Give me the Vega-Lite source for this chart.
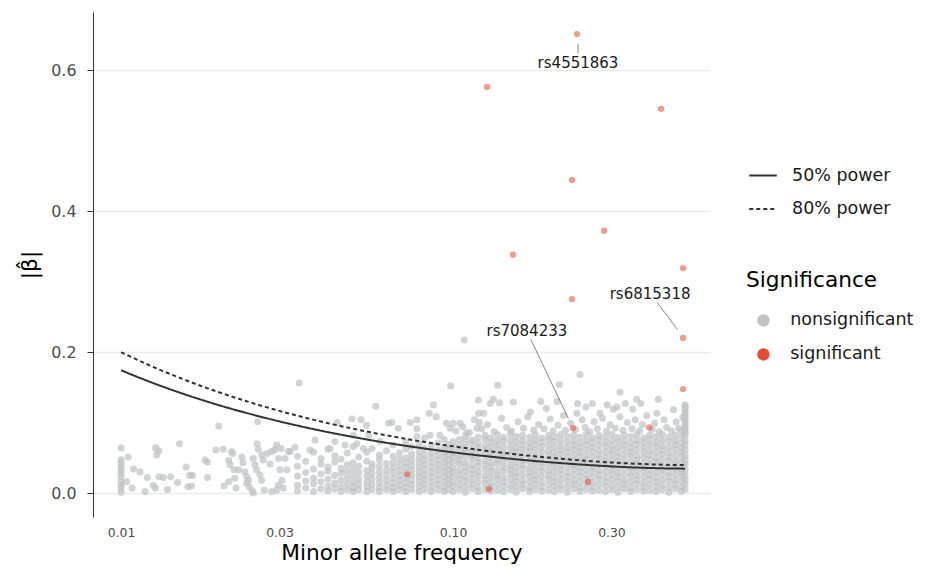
{
  "$schema": "https://vega.github.io/schema/vega-lite/v6.json",
  "width": 617,
  "height": 505,
  "autosize": {"type": "none"},
  "padding": {"left": 93, "top": 12, "right": 226, "bottom": 59},
  "background": "#ffffff",
  "config": {
    "view": {"stroke": null},
    "font": "DejaVu Sans"
  },
  "datasets": {
    "ns": [
      {"maf":0.01,"beta":0.064},{"maf":0.01,"beta":0.047},{"maf":0.01,"beta":0.043},{"maf":0.01,"beta":0.037},{"maf":0.01,"beta":0.033},{"maf":0.01,"beta":0.028},{"maf":0.01,"beta":0.023},{"maf":0.01,"beta":0.016},{"maf":0.01,"beta":0.011},{"maf":0.01,"beta":0.007},{"maf":0.01,"beta":0.001},
      {"maf":0.0105,"beta":0.051},{"maf":0.0109,"beta":0.034},{"maf":0.0104,"beta":0.016},{"maf":0.0108,"beta":0.007},{"maf":0.0114,"beta":0.030},{"maf":0.0118,"beta":0.002},{"maf":0.0120,"beta":0.022},{"maf":0.0125,"beta":0.011},{"maf":0.0127,"beta":0.064},{"maf":0.0130,"beta":0.060},{"maf":0.0128,"beta":0.054},{"maf":0.0127,"beta":0.007},{"maf":0.0130,"beta":0.023},{"maf":0.0134,"beta":0.022},{"maf":0.0138,"beta":0.005},{"maf":0.0141,"beta":0.023},{"maf":0.0148,"beta":0.015},{"maf":0.0150,"beta":0.070},{"maf":0.0157,"beta":0.037},{"maf":0.0159,"beta":0.009},{"maf":0.0161,"beta":0.025},{"maf":0.0164,"beta":0.025},{"maf":0.0163,"beta":0.010},{"maf":0.0179,"beta":0.047},{"maf":0.0182,"beta":0.044},{"maf":0.0182,"beta":0.022},{"maf":0.0193,"beta":0.061},{"maf":0.0197,"beta":0.095},{"maf":0.0203,"beta":0.062},{"maf":0.0204,"beta":0.010},{"maf":0.0211,"beta":0.046},{"maf":0.0215,"beta":0.059},{"maf":0.0217,"beta":0.056},{"maf":0.0213,"beta":0.040},{"maf":0.0211,"beta":0.016},{"maf":0.0220,"beta":0.021},{"maf":0.0222,"beta":0.007},{"maf":0.0219,"beta":0.033},{"maf":0.0226,"beta":0.033},{"maf":0.0231,"beta":0.051},{"maf":0.0233,"beta":0.043},{"maf":0.0236,"beta":0.030},{"maf":0.0239,"beta":0.023},{"maf":0.0239,"beta":0.014},{"maf":0.0243,"beta":0.009},{"maf":0.0248,"beta":0.004},{"maf":0.0250,"beta":0.000},{"maf":0.0250,"beta":0.049},{"maf":0.0253,"beta":0.040},{"maf":0.0256,"beta":0.033},{"maf":0.0258,"beta":0.101},{"maf":0.0257,"beta":0.070},{"maf":0.0259,"beta":0.062},{"maf":0.0265,"beta":0.054},{"maf":0.0268,"beta":0.047},{"maf":0.0262,"beta":0.026},{"maf":0.0265,"beta":0.018},{"maf":0.0270,"beta":0.004},{"maf":0.0275,"beta":0.056},{"maf":0.0281,"beta":0.041},{"maf":0.0284,"beta":0.059},{"maf":0.0290,"beta":0.061},{"maf":0.0294,"beta":0.068},{"maf":0.0303,"beta":0.063},{"maf":0.0298,"beta":0.049},{"maf":0.0301,"beta":0.033},{"maf":0.0305,"beta":0.018},{"maf":0.0298,"beta":0.011},{"maf":0.0312,"beta":0.049},{"maf":0.0316,"beta":0.033},{"maf":0.0308,"beta":0.007},{"maf":0.0319,"beta":0.059},{"maf":0.0294,"beta":0.004},{"maf":0.0284,"beta":0.002},{"maf":0.0242,"beta":0.018},
      {"maf":0.0344,"beta":0.156},{"maf":0.0585,"beta":0.123},{"maf":0.0984,"beta":0.152},{"maf":0.0873,"beta":0.125},{"maf":0.0848,"beta":0.113},{"maf":0.0890,"beta":0.108},{"maf":0.1192,"beta":0.132},{"maf":0.1194,"beta":0.113},{"maf":0.0384,"beta":0.075},{"maf":0.0448,"beta":0.100},{"maf":0.0496,"beta":0.105},{"maf":0.0528,"beta":0.104},{"maf":0.0549,"beta":0.096},{"maf":0.0639,"beta":0.099},{"maf":0.0654,"beta":0.100},{"maf":0.0684,"beta":0.092},{"maf":0.0743,"beta":0.100},{"maf":0.0778,"beta":0.104},{"maf":0.0778,"beta":0.091},{"maf":0.0955,"beta":0.099},{"maf":0.100,"beta":0.099},{"maf":0.105,"beta":0.099},{"maf":0.1081,"beta":0.217},
      {"maf":0.0334,"beta":0.065},{"maf":0.0323,"beta":0.059},{"maf":0.0371,"beta":0.061},{"maf":0.0426,"beta":0.063},{"maf":0.0441,"beta":0.073},{"maf":0.0473,"beta":0.068},{"maf":0.0513,"beta":0.070},{"maf":0.0537,"beta":0.063},{"maf":0.0603,"beta":0.073},{"maf":0.0556,"beta":0.082},{"maf":0.0501,"beta":0.082},{"maf":0.0778,"beta":0.080},{"maf":0.0852,"beta":0.082},{"maf":0.0913,"beta":0.082},{"maf":0.0980,"beta":0.092},{"maf":0.1098,"beta":0.085},{"maf":0.118,"beta":0.092},
      {"maf":0.034,"beta":0.003},{"maf":0.034,"beta":0.011},{"maf":0.034,"beta":0.024},{"maf":0.034,"beta":0.038},{"maf":0.034,"beta":0.052},
      {"maf":0.036,"beta":0.007},{"maf":0.036,"beta":0.017},{"maf":0.036,"beta":0.029},{"maf":0.036,"beta":0.045},
      {"maf":0.038,"beta":0.002},{"maf":0.038,"beta":0.013},{"maf":0.038,"beta":0.021},{"maf":0.038,"beta":0.034},{"maf":0.038,"beta":0.058},
      {"maf":0.040,"beta":0.006},{"maf":0.040,"beta":0.016},{"maf":0.040,"beta":0.027},{"maf":0.040,"beta":0.041},{"maf":0.040,"beta":0.049},
      {"maf":0.042,"beta":0.003},{"maf":0.042,"beta":0.010},{"maf":0.042,"beta":0.020},{"maf":0.042,"beta":0.031},{"maf":0.042,"beta":0.037},{"maf":0.042,"beta":0.062},
      {"maf":0.044,"beta":0.006},{"maf":0.044,"beta":0.014},{"maf":0.044,"beta":0.025},{"maf":0.044,"beta":0.044},{"maf":0.044,"beta":0.053},
      {"maf":0.046,"beta":0.002},{"maf":0.046,"beta":0.009},{"maf":0.046,"beta":0.018},{"maf":0.046,"beta":0.028},{"maf":0.046,"beta":0.035},{"maf":0.046,"beta":0.048},
      {"maf":0.048,"beta":0.005},{"maf":0.048,"beta":0.013},{"maf":0.048,"beta":0.022},{"maf":0.048,"beta":0.031},{"maf":0.048,"beta":0.040},{"maf":0.048,"beta":0.057},
      {"maf":0.050,"beta":0.002},{"maf":0.050,"beta":0.008},{"maf":0.050,"beta":0.016},{"maf":0.050,"beta":0.025},{"maf":0.050,"beta":0.034},{"maf":0.050,"beta":0.043},{"maf":0.050,"beta":0.066},
      {"maf":0.052,"beta":0.005},{"maf":0.052,"beta":0.012},{"maf":0.052,"beta":0.020},{"maf":0.052,"beta":0.029},{"maf":0.052,"beta":0.038},{"maf":0.052,"beta":0.051},
      {"maf":0.055,"beta":0.002},{"maf":0.055,"beta":0.009},{"maf":0.055,"beta":0.016},{"maf":0.055,"beta":0.024},{"maf":0.055,"beta":0.032},{"maf":0.055,"beta":0.045},{"maf":0.055,"beta":0.058},
      {"maf":0.057,"beta":0.005},{"maf":0.057,"beta":0.012},{"maf":0.057,"beta":0.020},{"maf":0.057,"beta":0.028},{"maf":0.057,"beta":0.036},{"maf":0.057,"beta":0.041},{"maf":0.057,"beta":0.063},
      {"maf":0.060,"beta":0.002},{"maf":0.060,"beta":0.008},{"maf":0.060,"beta":0.015},{"maf":0.060,"beta":0.022},{"maf":0.060,"beta":0.030},{"maf":0.060,"beta":0.038},{"maf":0.060,"beta":0.047},{"maf":0.060,"beta":0.054},
      {"maf":0.063,"beta":0.005},{"maf":0.063,"beta":0.011},{"maf":0.063,"beta":0.018},{"maf":0.063,"beta":0.026},{"maf":0.063,"beta":0.033},{"maf":0.063,"beta":0.042},{"maf":0.063,"beta":0.060},
      {"maf":0.066,"beta":0.002},{"maf":0.066,"beta":0.008},{"maf":0.066,"beta":0.014},{"maf":0.066,"beta":0.021},{"maf":0.066,"beta":0.029},{"maf":0.066,"beta":0.036},{"maf":0.066,"beta":0.044},{"maf":0.066,"beta":0.052},{"maf":0.066,"beta":0.068},
      {"maf":0.069,"beta":0.005},{"maf":0.069,"beta":0.011},{"maf":0.069,"beta":0.018},{"maf":0.069,"beta":0.025},{"maf":0.069,"beta":0.032},{"maf":0.069,"beta":0.040},{"maf":0.069,"beta":0.048},{"maf":0.069,"beta":0.057},
      {"maf":0.072,"beta":0.002},{"maf":0.072,"beta":0.008},{"maf":0.072,"beta":0.015},{"maf":0.072,"beta":0.022},{"maf":0.072,"beta":0.029},{"maf":0.072,"beta":0.036},{"maf":0.072,"beta":0.043},{"maf":0.072,"beta":0.050},{"maf":0.072,"beta":0.062},{"maf":0.072,"beta":0.072},
      {"maf":0.075,"beta":0.005},{"maf":0.075,"beta":0.012},{"maf":0.075,"beta":0.019},{"maf":0.075,"beta":0.026},{"maf":0.075,"beta":0.033},{"maf":0.075,"beta":0.040},{"maf":0.075,"beta":0.047},{"maf":0.075,"beta":0.055},{"maf":0.075,"beta":0.066},
      {"maf":0.079,"beta":0.002},{"maf":0.079,"beta":0.009},{"maf":0.079,"beta":0.016},{"maf":0.079,"beta":0.023},{"maf":0.079,"beta":0.030},{"maf":0.079,"beta":0.037},{"maf":0.079,"beta":0.044},{"maf":0.079,"beta":0.051},{"maf":0.079,"beta":0.059},{"maf":0.079,"beta":0.070},
      {"maf":0.082,"beta":0.005},{"maf":0.082,"beta":0.012},{"maf":0.082,"beta":0.019},{"maf":0.082,"beta":0.026},{"maf":0.082,"beta":0.033},{"maf":0.082,"beta":0.040},{"maf":0.082,"beta":0.047},{"maf":0.082,"beta":0.054},{"maf":0.082,"beta":0.063},{"maf":0.082,"beta":0.078},
      {"maf":0.086,"beta":0.002},{"maf":0.086,"beta":0.009},{"maf":0.086,"beta":0.016},{"maf":0.086,"beta":0.023},{"maf":0.086,"beta":0.030},{"maf":0.086,"beta":0.037},{"maf":0.086,"beta":0.044},{"maf":0.086,"beta":0.051},{"maf":0.086,"beta":0.058},{"maf":0.086,"beta":0.067},
      {"maf":0.090,"beta":0.005},{"maf":0.090,"beta":0.012},{"maf":0.090,"beta":0.019},{"maf":0.090,"beta":0.026},{"maf":0.090,"beta":0.033},{"maf":0.090,"beta":0.040},{"maf":0.090,"beta":0.047},{"maf":0.090,"beta":0.054},{"maf":0.090,"beta":0.061},{"maf":0.090,"beta":0.071},
      {"maf":0.094,"beta":0.002},{"maf":0.094,"beta":0.009},{"maf":0.094,"beta":0.016},{"maf":0.094,"beta":0.023},{"maf":0.094,"beta":0.030},{"maf":0.094,"beta":0.037},{"maf":0.094,"beta":0.044},{"maf":0.094,"beta":0.051},{"maf":0.094,"beta":0.058},{"maf":0.094,"beta":0.065},{"maf":0.094,"beta":0.076},
      {"maf":0.097,"beta":0.005},{"maf":0.097,"beta":0.012},{"maf":0.097,"beta":0.019},{"maf":0.097,"beta":0.026},{"maf":0.097,"beta":0.033},{"maf":0.097,"beta":0.040},{"maf":0.097,"beta":0.047},{"maf":0.097,"beta":0.054},{"maf":0.097,"beta":0.061},{"maf":0.097,"beta":0.069},
      {"maf":0.100,"beta":0.002},{"maf":0.100,"beta":0.010},{"maf":0.100,"beta":0.016},{"maf":0.100,"beta":0.024},{"maf":0.100,"beta":0.030},{"maf":0.100,"beta":0.036},{"maf":0.100,"beta":0.045},{"maf":0.100,"beta":0.051},{"maf":0.100,"beta":0.057},{"maf":0.100,"beta":0.066},{"maf":0.100,"beta":0.073},
      {"maf":0.1045,"beta":0.005},{"maf":0.1045,"beta":0.012},{"maf":0.1045,"beta":0.020},{"maf":0.1045,"beta":0.026},{"maf":0.1045,"beta":0.032},{"maf":0.1045,"beta":0.041},{"maf":0.1045,"beta":0.047},{"maf":0.1045,"beta":0.053},{"maf":0.1045,"beta":0.062},{"maf":0.1045,"beta":0.068},{"maf":0.1045,"beta":0.076},
      {"maf":0.109,"beta":0.001},{"maf":0.109,"beta":0.009},{"maf":0.109,"beta":0.017},{"maf":0.109,"beta":0.023},{"maf":0.109,"beta":0.031},{"maf":0.109,"beta":0.037},{"maf":0.109,"beta":0.043},{"maf":0.109,"beta":0.052},{"maf":0.109,"beta":0.058},{"maf":0.109,"beta":0.064},{"maf":0.109,"beta":0.072},{"maf":0.109,"beta":0.080},
      {"maf":0.114,"beta":0.006},{"maf":0.114,"beta":0.012},{"maf":0.114,"beta":0.019},{"maf":0.114,"beta":0.027},{"maf":0.114,"beta":0.033},{"maf":0.114,"beta":0.039},{"maf":0.114,"beta":0.048},{"maf":0.114,"beta":0.054},{"maf":0.114,"beta":0.060},{"maf":0.114,"beta":0.069},{"maf":0.114,"beta":0.075},
      {"maf":0.119,"beta":0.002},{"maf":0.119,"beta":0.008},{"maf":0.119,"beta":0.016},{"maf":0.119,"beta":0.024},{"maf":0.119,"beta":0.030},{"maf":0.119,"beta":0.038},{"maf":0.119,"beta":0.044},{"maf":0.119,"beta":0.050},{"maf":0.119,"beta":0.059},{"maf":0.119,"beta":0.065},{"maf":0.119,"beta":0.071},{"maf":0.119,"beta":0.079},
      {"maf":0.125,"beta":0.005},{"maf":0.125,"beta":0.013},{"maf":0.125,"beta":0.019},{"maf":0.125,"beta":0.025},{"maf":0.125,"beta":0.034},{"maf":0.125,"beta":0.040},{"maf":0.125,"beta":0.046},{"maf":0.125,"beta":0.055},{"maf":0.125,"beta":0.061},{"maf":0.125,"beta":0.067},{"maf":0.125,"beta":0.076},{"maf":0.125,"beta":0.082},
      {"maf":0.130,"beta":0.003},{"maf":0.130,"beta":0.009},{"maf":0.130,"beta":0.015},{"maf":0.130,"beta":0.023},{"maf":0.130,"beta":0.031},{"maf":0.130,"beta":0.037},{"maf":0.130,"beta":0.043},{"maf":0.130,"beta":0.051},{"maf":0.130,"beta":0.058},{"maf":0.130,"beta":0.066},{"maf":0.130,"beta":0.072},{"maf":0.130,"beta":0.078},
      {"maf":0.136,"beta":0.004},{"maf":0.136,"beta":0.012},{"maf":0.136,"beta":0.020},{"maf":0.136,"beta":0.026},{"maf":0.136,"beta":0.032},{"maf":0.136,"beta":0.041},{"maf":0.136,"beta":0.047},{"maf":0.136,"beta":0.053},{"maf":0.136,"beta":0.062},{"maf":0.136,"beta":0.068},{"maf":0.136,"beta":0.074},{"maf":0.136,"beta":0.083},
      {"maf":0.142,"beta":0.002},{"maf":0.142,"beta":0.010},{"maf":0.142,"beta":0.016},{"maf":0.142,"beta":0.022},{"maf":0.142,"beta":0.031},{"maf":0.142,"beta":0.037},{"maf":0.142,"beta":0.045},{"maf":0.142,"beta":0.051},{"maf":0.142,"beta":0.057},{"maf":0.142,"beta":0.065},{"maf":0.142,"beta":0.073},{"maf":0.142,"beta":0.079},
      {"maf":0.149,"beta":0.005},{"maf":0.149,"beta":0.011},{"maf":0.149,"beta":0.019},{"maf":0.149,"beta":0.027},{"maf":0.149,"beta":0.033},{"maf":0.149,"beta":0.039},{"maf":0.149,"beta":0.047},{"maf":0.149,"beta":0.055},{"maf":0.149,"beta":0.061},{"maf":0.149,"beta":0.067},{"maf":0.149,"beta":0.075},{"maf":0.149,"beta":0.084},
      {"maf":0.155,"beta":0.001},{"maf":0.155,"beta":0.009},{"maf":0.155,"beta":0.017},{"maf":0.155,"beta":0.023},{"maf":0.155,"beta":0.029},{"maf":0.155,"beta":0.037},{"maf":0.155,"beta":0.044},{"maf":0.155,"beta":0.052},{"maf":0.155,"beta":0.058},{"maf":0.155,"beta":0.064},{"maf":0.155,"beta":0.072},{"maf":0.155,"beta":0.080},
      {"maf":0.162,"beta":0.006},{"maf":0.162,"beta":0.012},{"maf":0.162,"beta":0.018},{"maf":0.162,"beta":0.026},{"maf":0.162,"beta":0.034},{"maf":0.162,"beta":0.040},{"maf":0.162,"beta":0.046},{"maf":0.162,"beta":0.054},{"maf":0.162,"beta":0.062},{"maf":0.162,"beta":0.068},{"maf":0.162,"beta":0.074},{"maf":0.162,"beta":0.082},
      {"maf":0.170,"beta":0.002},{"maf":0.170,"beta":0.008},{"maf":0.170,"beta":0.016},{"maf":0.170,"beta":0.024},{"maf":0.170,"beta":0.030},{"maf":0.170,"beta":0.036},{"maf":0.170,"beta":0.045},{"maf":0.170,"beta":0.051},{"maf":0.170,"beta":0.059},{"maf":0.170,"beta":0.065},{"maf":0.170,"beta":0.071},{"maf":0.170,"beta":0.079},
      {"maf":0.177,"beta":0.005},{"maf":0.177,"beta":0.013},{"maf":0.177,"beta":0.019},{"maf":0.177,"beta":0.025},{"maf":0.177,"beta":0.033},{"maf":0.177,"beta":0.041},{"maf":0.177,"beta":0.047},{"maf":0.177,"beta":0.053},{"maf":0.177,"beta":0.061},{"maf":0.177,"beta":0.069},{"maf":0.177,"beta":0.075},{"maf":0.177,"beta":0.083},
      {"maf":0.185,"beta":0.003},{"maf":0.185,"beta":0.009},{"maf":0.185,"beta":0.015},{"maf":0.185,"beta":0.023},{"maf":0.185,"beta":0.031},{"maf":0.185,"beta":0.037},{"maf":0.185,"beta":0.043},{"maf":0.185,"beta":0.050},{"maf":0.185,"beta":0.058},{"maf":0.185,"beta":0.066},{"maf":0.185,"beta":0.072},{"maf":0.185,"beta":0.078},
      {"maf":0.194,"beta":0.004},{"maf":0.194,"beta":0.012},{"maf":0.194,"beta":0.020},{"maf":0.194,"beta":0.026},{"maf":0.194,"beta":0.032},{"maf":0.194,"beta":0.040},{"maf":0.194,"beta":0.048},{"maf":0.194,"beta":0.054},{"maf":0.194,"beta":0.060},{"maf":0.194,"beta":0.068},{"maf":0.194,"beta":0.076},{"maf":0.194,"beta":0.082},
      {"maf":0.202,"beta":0.002},{"maf":0.202,"beta":0.010},{"maf":0.202,"beta":0.016},{"maf":0.202,"beta":0.022},{"maf":0.202,"beta":0.030},{"maf":0.202,"beta":0.038},{"maf":0.202,"beta":0.044},{"maf":0.202,"beta":0.051},{"maf":0.202,"beta":0.057},{"maf":0.202,"beta":0.065},{"maf":0.202,"beta":0.073},{"maf":0.202,"beta":0.080},
      {"maf":0.211,"beta":0.005},{"maf":0.211,"beta":0.011},{"maf":0.211,"beta":0.019},{"maf":0.211,"beta":0.027},{"maf":0.211,"beta":0.033},{"maf":0.211,"beta":0.039},{"maf":0.211,"beta":0.047},{"maf":0.211,"beta":0.055},{"maf":0.211,"beta":0.061},{"maf":0.211,"beta":0.067},{"maf":0.211,"beta":0.075},{"maf":0.211,"beta":0.083},
      {"maf":0.221,"beta":0.001},{"maf":0.221,"beta":0.009},{"maf":0.221,"beta":0.017},{"maf":0.221,"beta":0.023},{"maf":0.221,"beta":0.029},{"maf":0.221,"beta":0.037},{"maf":0.221,"beta":0.045},{"maf":0.221,"beta":0.051},{"maf":0.221,"beta":0.058},{"maf":0.221,"beta":0.064},{"maf":0.221,"beta":0.072},{"maf":0.221,"beta":0.080},
      {"maf":0.231,"beta":0.006},{"maf":0.231,"beta":0.012},{"maf":0.231,"beta":0.018},{"maf":0.231,"beta":0.026},{"maf":0.231,"beta":0.034},{"maf":0.231,"beta":0.040},{"maf":0.231,"beta":0.046},{"maf":0.231,"beta":0.054},{"maf":0.231,"beta":0.062},{"maf":0.231,"beta":0.068},{"maf":0.231,"beta":0.074},{"maf":0.231,"beta":0.082},
      {"maf":0.241,"beta":0.002},{"maf":0.241,"beta":0.008},{"maf":0.241,"beta":0.016},{"maf":0.241,"beta":0.024},{"maf":0.241,"beta":0.030},{"maf":0.241,"beta":0.036},{"maf":0.241,"beta":0.044},{"maf":0.241,"beta":0.052},{"maf":0.241,"beta":0.058},{"maf":0.241,"beta":0.065},{"maf":0.241,"beta":0.071},{"maf":0.241,"beta":0.079},
      {"maf":0.252,"beta":0.005},{"maf":0.252,"beta":0.013},{"maf":0.252,"beta":0.019},{"maf":0.252,"beta":0.025},{"maf":0.252,"beta":0.033},{"maf":0.252,"beta":0.041},{"maf":0.252,"beta":0.047},{"maf":0.252,"beta":0.053},{"maf":0.252,"beta":0.061},{"maf":0.252,"beta":0.069},{"maf":0.252,"beta":0.075},{"maf":0.252,"beta":0.084},
      {"maf":0.263,"beta":0.003},{"maf":0.263,"beta":0.009},{"maf":0.263,"beta":0.015},{"maf":0.263,"beta":0.023},{"maf":0.263,"beta":0.031},{"maf":0.263,"beta":0.037},{"maf":0.263,"beta":0.043},{"maf":0.263,"beta":0.051},{"maf":0.263,"beta":0.059},{"maf":0.263,"beta":0.065},{"maf":0.263,"beta":0.072},{"maf":0.263,"beta":0.078},
      {"maf":0.275,"beta":0.004},{"maf":0.275,"beta":0.012},{"maf":0.275,"beta":0.020},{"maf":0.275,"beta":0.026},{"maf":0.275,"beta":0.032},{"maf":0.275,"beta":0.040},{"maf":0.275,"beta":0.048},{"maf":0.275,"beta":0.054},{"maf":0.275,"beta":0.060},{"maf":0.275,"beta":0.068},{"maf":0.275,"beta":0.076},{"maf":0.275,"beta":0.082},
      {"maf":0.288,"beta":0.002},{"maf":0.288,"beta":0.010},{"maf":0.288,"beta":0.016},{"maf":0.288,"beta":0.022},{"maf":0.288,"beta":0.030},{"maf":0.288,"beta":0.038},{"maf":0.288,"beta":0.044},{"maf":0.288,"beta":0.050},{"maf":0.288,"beta":0.058},{"maf":0.288,"beta":0.066},{"maf":0.288,"beta":0.072},{"maf":0.288,"beta":0.080},
      {"maf":0.301,"beta":0.005},{"maf":0.301,"beta":0.011},{"maf":0.301,"beta":0.019},{"maf":0.301,"beta":0.027},{"maf":0.301,"beta":0.033},{"maf":0.301,"beta":0.039},{"maf":0.301,"beta":0.047},{"maf":0.301,"beta":0.055},{"maf":0.301,"beta":0.061},{"maf":0.301,"beta":0.067},{"maf":0.301,"beta":0.075},{"maf":0.301,"beta":0.083},
      {"maf":0.314,"beta":0.001},{"maf":0.314,"beta":0.009},{"maf":0.314,"beta":0.017},{"maf":0.314,"beta":0.023},{"maf":0.314,"beta":0.029},{"maf":0.314,"beta":0.037},{"maf":0.314,"beta":0.045},{"maf":0.314,"beta":0.051},{"maf":0.314,"beta":0.057},{"maf":0.314,"beta":0.065},{"maf":0.314,"beta":0.073},{"maf":0.314,"beta":0.079},
      {"maf":0.328,"beta":0.006},{"maf":0.328,"beta":0.012},{"maf":0.328,"beta":0.018},{"maf":0.328,"beta":0.026},{"maf":0.328,"beta":0.034},{"maf":0.328,"beta":0.040},{"maf":0.328,"beta":0.046},{"maf":0.328,"beta":0.054},{"maf":0.328,"beta":0.062},{"maf":0.328,"beta":0.068},{"maf":0.328,"beta":0.074},{"maf":0.328,"beta":0.082},
      {"maf":0.343,"beta":0.002},{"maf":0.343,"beta":0.008},{"maf":0.343,"beta":0.016},{"maf":0.343,"beta":0.024},{"maf":0.343,"beta":0.030},{"maf":0.343,"beta":0.036},{"maf":0.343,"beta":0.044},{"maf":0.343,"beta":0.052},{"maf":0.343,"beta":0.058},{"maf":0.343,"beta":0.064},{"maf":0.343,"beta":0.071},{"maf":0.343,"beta":0.080},
      {"maf":0.358,"beta":0.005},{"maf":0.358,"beta":0.013},{"maf":0.358,"beta":0.019},{"maf":0.358,"beta":0.025},{"maf":0.358,"beta":0.033},{"maf":0.358,"beta":0.041},{"maf":0.358,"beta":0.047},{"maf":0.358,"beta":0.053},{"maf":0.358,"beta":0.061},{"maf":0.358,"beta":0.069},{"maf":0.358,"beta":0.075},{"maf":0.358,"beta":0.083},
      {"maf":0.375,"beta":0.003},{"maf":0.375,"beta":0.009},{"maf":0.375,"beta":0.015},{"maf":0.375,"beta":0.023},{"maf":0.375,"beta":0.031},{"maf":0.375,"beta":0.037},{"maf":0.375,"beta":0.043},{"maf":0.375,"beta":0.051},{"maf":0.375,"beta":0.059},{"maf":0.375,"beta":0.065},{"maf":0.375,"beta":0.072},{"maf":0.375,"beta":0.078},
      {"maf":0.391,"beta":0.004},{"maf":0.391,"beta":0.012},{"maf":0.391,"beta":0.020},{"maf":0.391,"beta":0.026},{"maf":0.391,"beta":0.032},{"maf":0.391,"beta":0.040},{"maf":0.391,"beta":0.048},{"maf":0.391,"beta":0.054},{"maf":0.391,"beta":0.060},{"maf":0.391,"beta":0.068},{"maf":0.391,"beta":0.076},{"maf":0.391,"beta":0.082},
      {"maf":0.409,"beta":0.002},{"maf":0.409,"beta":0.010},{"maf":0.409,"beta":0.016},{"maf":0.409,"beta":0.022},{"maf":0.409,"beta":0.030},{"maf":0.409,"beta":0.038},{"maf":0.409,"beta":0.044},{"maf":0.409,"beta":0.050},{"maf":0.409,"beta":0.058},{"maf":0.409,"beta":0.066},{"maf":0.409,"beta":0.072},{"maf":0.409,"beta":0.080},
      {"maf":0.427,"beta":0.005},{"maf":0.427,"beta":0.011},{"maf":0.427,"beta":0.019},{"maf":0.427,"beta":0.027},{"maf":0.427,"beta":0.033},{"maf":0.427,"beta":0.039},{"maf":0.427,"beta":0.047},{"maf":0.427,"beta":0.055},{"maf":0.427,"beta":0.061},{"maf":0.427,"beta":0.067},{"maf":0.427,"beta":0.075},{"maf":0.427,"beta":0.083},
      {"maf":0.447,"beta":0.001},{"maf":0.447,"beta":0.009},{"maf":0.447,"beta":0.017},{"maf":0.447,"beta":0.023},{"maf":0.447,"beta":0.029},{"maf":0.447,"beta":0.037},{"maf":0.447,"beta":0.045},{"maf":0.447,"beta":0.051},{"maf":0.447,"beta":0.057},{"maf":0.447,"beta":0.065},{"maf":0.447,"beta":0.073},{"maf":0.447,"beta":0.079},
      {"maf":0.467,"beta":0.006},{"maf":0.467,"beta":0.012},{"maf":0.467,"beta":0.018},{"maf":0.467,"beta":0.026},{"maf":0.467,"beta":0.034},{"maf":0.467,"beta":0.040},{"maf":0.467,"beta":0.046},{"maf":0.467,"beta":0.054},{"maf":0.467,"beta":0.062},{"maf":0.467,"beta":0.068},{"maf":0.467,"beta":0.074},{"maf":0.467,"beta":0.082},
      {"maf":0.488,"beta":0.002},{"maf":0.488,"beta":0.008},{"maf":0.488,"beta":0.016},{"maf":0.488,"beta":0.024},{"maf":0.488,"beta":0.030},{"maf":0.488,"beta":0.036},{"maf":0.488,"beta":0.044},{"maf":0.488,"beta":0.052},{"maf":0.488,"beta":0.058},{"maf":0.488,"beta":0.064},{"maf":0.488,"beta":0.071},{"maf":0.488,"beta":0.079},
      {"maf":0.5,"beta":0.005},{"maf":0.5,"beta":0.013},{"maf":0.5,"beta":0.019},{"maf":0.5,"beta":0.025},{"maf":0.5,"beta":0.033},{"maf":0.5,"beta":0.041},{"maf":0.5,"beta":0.047},{"maf":0.5,"beta":0.053},{"maf":0.5,"beta":0.061},{"maf":0.5,"beta":0.069},{"maf":0.5,"beta":0.075},{"maf":0.5,"beta":0.083},{"maf":0.5,"beta":0.086},{"maf":0.5,"beta":0.090},{"maf":0.5,"beta":0.094},{"maf":0.5,"beta":0.098},{"maf":0.5,"beta":0.102},{"maf":0.5,"beta":0.106},{"maf":0.5,"beta":0.110},{"maf":0.5,"beta":0.114},{"maf":0.5,"beta":0.118},{"maf":0.5,"beta":0.122},{"maf":0.5,"beta":0.125},
      {"maf":0.1363,"beta":0.153},{"maf":0.2413,"beta":0.168},{"maf":0.2090,"beta":0.154},{"maf":0.3184,"beta":0.143},{"maf":0.4152,"beta":0.133},{"maf":0.1322,"beta":0.133},{"maf":0.1295,"beta":0.127},{"maf":0.138,"beta":0.128},{"maf":0.1519,"beta":0.129},{"maf":0.1837,"beta":0.130},{"maf":0.2057,"beta":0.130},{"maf":0.2372,"beta":0.127},{"maf":0.2514,"beta":0.122},{"maf":0.2628,"beta":0.127},{"maf":0.2914,"beta":0.125},{"maf":0.3119,"beta":0.122},{"maf":0.3302,"beta":0.127},{"maf":0.3575,"beta":0.133},{"maf":0.3678,"beta":0.127},{"maf":0.461,"beta":0.118},{"maf":0.1236,"beta":0.113},{"maf":0.120,"beta":0.100},{"maf":0.171,"beta":0.115},{"maf":0.191,"beta":0.120},{"maf":0.236,"beta":0.113},{"maf":0.277,"beta":0.113},{"maf":0.304,"beta":0.119},{"maf":0.348,"beta":0.119},{"maf":0.411,"beta":0.113},
      {"maf":0.102,"beta":0.088},{"maf":0.107,"beta":0.094},{"maf":0.112,"beta":0.086},{"maf":0.116,"beta":0.104},{"maf":0.122,"beta":0.091},{"maf":0.127,"beta":0.097},{"maf":0.133,"beta":0.087},{"maf":0.140,"beta":0.106},{"maf":0.145,"beta":0.093},{"maf":0.150,"beta":0.088},{"maf":0.157,"beta":0.101},{"maf":0.163,"beta":0.092},{"maf":0.168,"beta":0.108},{"maf":0.175,"beta":0.089},{"maf":0.181,"beta":0.097},{"maf":0.188,"beta":0.091},{"maf":0.196,"beta":0.105},{"maf":0.200,"beta":0.088},{"maf":0.207,"beta":0.096},{"maf":0.215,"beta":0.110},{"maf":0.218,"beta":0.089},{"maf":0.226,"beta":0.099},{"maf":0.234,"beta":0.090},{"maf":0.245,"beta":0.104},{"maf":0.250,"beta":0.093},{"maf":0.258,"beta":0.087},{"maf":0.266,"beta":0.101},{"maf":0.272,"beta":0.091},{"maf":0.282,"beta":0.106},{"maf":0.290,"beta":0.088},{"maf":0.297,"beta":0.097},{"maf":0.308,"beta":0.092},{"maf":0.318,"beta":0.108},{"maf":0.325,"beta":0.089},{"maf":0.335,"beta":0.100},{"maf":0.346,"beta":0.091},{"maf":0.354,"beta":0.104},{"maf":0.365,"beta":0.088},{"maf":0.372,"beta":0.097},{"maf":0.383,"beta":0.110},{"maf":0.398,"beta":0.090},{"maf":0.405,"beta":0.099},{"maf":0.418,"beta":0.087},{"maf":0.432,"beta":0.104},{"maf":0.440,"beta":0.093},{"maf":0.455,"beta":0.088},{"maf":0.470,"beta":0.101},{"maf":0.478,"beta":0.092},{"maf":0.492,"beta":0.107},{"maf":0.486,"beta":0.088}
    ],
    "sig": [
      {"maf":0.2363,"beta":0.651},{"maf":0.1266,"beta":0.576},{"maf":0.4232,"beta":0.545},{"maf":0.2282,"beta":0.444},{"maf":0.2851,"beta":0.372},{"maf":0.1516,"beta":0.338},{"maf":0.4931,"beta":0.319},{"maf":0.2282,"beta":0.275},{"maf":0.4931,"beta":0.220},{"maf":0.4931,"beta":0.1475},{"maf":0.2298,"beta":0.092},{"maf":0.390,"beta":0.093},{"maf":0.2551,"beta":0.0156},{"maf":0.0728,"beta":0.0265},{"maf":0.1283,"beta":0.0057}
    ],
    "curves": [
      {"maf":0.01,"beta":0.1741,"power":"50% power"},{"maf":0.0125,"beta":0.1559,"power":"50% power"},{"maf":0.015,"beta":0.1425,"power":"50% power"},{"maf":0.0175,"beta":0.1321,"power":"50% power"},{"maf":0.02,"beta":0.1237,"power":"50% power"},{"maf":0.025,"beta":0.1110,"power":"50% power"},{"maf":0.03,"beta":0.1016,"power":"50% power"},{"maf":0.035,"beta":0.0943,"power":"50% power"},{"maf":0.04,"beta":0.0884,"power":"50% power"},{"maf":0.05,"beta":0.0795,"power":"50% power"},{"maf":0.06,"beta":0.0729,"power":"50% power"},{"maf":0.07,"beta":0.0679,"power":"50% power"},{"maf":0.085,"beta":0.0621,"power":"50% power"},{"maf":0.1,"beta":0.0577,"power":"50% power"},{"maf":0.125,"beta":0.0524,"power":"50% power"},{"maf":0.15,"beta":0.0485,"power":"50% power"},{"maf":0.2,"beta":0.0433,"power":"50% power"},{"maf":0.25,"beta":0.0400,"power":"50% power"},{"maf":0.3,"beta":0.0378,"power":"50% power"},{"maf":0.35,"beta":0.0363,"power":"50% power"},{"maf":0.4,"beta":0.0354,"power":"50% power"},{"maf":0.45,"beta":0.0348,"power":"50% power"},{"maf":0.5,"beta":0.0346,"power":"50% power"},
      {"maf":0.01,"beta":0.1997,"power":"80% power"},{"maf":0.0125,"beta":0.1788,"power":"80% power"},{"maf":0.015,"beta":0.1635,"power":"80% power"},{"maf":0.0175,"beta":0.1515,"power":"80% power"},{"maf":0.02,"beta":0.1419,"power":"80% power"},{"maf":0.025,"beta":0.1273,"power":"80% power"},{"maf":0.03,"beta":0.1165,"power":"80% power"},{"maf":0.035,"beta":0.1081,"power":"80% power"},{"maf":0.04,"beta":0.1014,"power":"80% power"},{"maf":0.05,"beta":0.0912,"power":"80% power"},{"maf":0.06,"beta":0.0837,"power":"80% power"},{"maf":0.07,"beta":0.0779,"power":"80% power"},{"maf":0.085,"beta":0.0712,"power":"80% power"},{"maf":0.1,"beta":0.0662,"power":"80% power"},{"maf":0.125,"beta":0.0601,"power":"80% power"},{"maf":0.15,"beta":0.0556,"power":"80% power"},{"maf":0.2,"beta":0.0497,"power":"80% power"},{"maf":0.25,"beta":0.0459,"power":"80% power"},{"maf":0.3,"beta":0.0434,"power":"80% power"},{"maf":0.35,"beta":0.0417,"power":"80% power"},{"maf":0.4,"beta":0.0406,"power":"80% power"},{"maf":0.45,"beta":0.0399,"power":"80% power"},{"maf":0.5,"beta":0.0397,"power":"80% power"}
    ],
    "leaders": [
      {"maf":0.2379,"beta":0.637,"maf2":0.2379,"beta2":0.624},
      {"maf":0.1714,"beta":0.218,"maf2":0.2225,"beta2":0.106},
      {"maf":0.4124,"beta":0.270,"maf2":0.4738,"beta2":0.2322}
    ],
    "labels": [
      {"maf":0.2379,"beta":0.6104,"label":"rs4551863"},
      {"maf":0.1669,"beta":0.2302,"label":"rs7084233"},
      {"maf":0.3922,"beta":0.2823,"label":"rs6815318"}
    ]
  },
  "layer": [
    {
      "data": {"name": "ns"},
      "mark": {"type": "circle", "size": 50, "opacity": 0.72},
      "encoding": {
        "x": {
          "field": "maf", "type": "quantitative",
          "scale": {"type": "log", "domain": [0.00823, 0.5943], "nice": false},
          "axis": {
            "values": [0.01, 0.03, 0.1, 0.3], "format": ".2f",
            "title": "Minor allele frequency",
            "grid": false, "domain": false, "ticks": false, "tickSize": 0,
            "labelFontSize": 12.4, "labelColor": "#4D4D4D", "labelPadding": 9,
            "titleFontSize": 21.7, "titleFontWeight": "normal", "titleColor": "#000000", "titlePadding": 4
          }
        },
        "y": {
          "field": "beta", "type": "quantitative",
          "scale": {"domain": [-0.034, 0.6823], "nice": false, "zero": false},
          "axis": {
            "values": [0, 0.2, 0.4, 0.6], "format": ".1f",
            "title": "|β̂|",
            "grid": true, "gridColor": "#EBEBEB", "gridWidth": 1.3,
            "domain": true, "domainColor": "#333333", "domainWidth": 1,
            "ticks": true, "tickColor": "#333333", "tickSize": 6,
            "labelFontSize": 15.9, "labelColor": "#4D4D4D", "labelPadding": 11,
            "titleFontSize": 21.7, "titleFontWeight": "normal", "titleColor": "#000000",
            "titleX": -64, "titleY": 252.5, "titleAngle": 270, "titleAlign": "center", "titleBaseline": "middle"
          }
        },
        "color": {
          "datum": "nonsignificant",
          "scale": {"domain": ["nonsignificant", "significant"], "range": ["#BFC3C6", "#E64B35"]},
          "legend": {
            "title": "Significance", "orient": "none", "legendX": 653, "legendY": 258,
            "titleFontSize": 21.7, "titleFontWeight": "normal", "titleColor": "#000000", "titlePadding": 20,
            "symbolType": "circle", "symbolSize": 154, "symbolOpacity": 1, "symbolStrokeWidth": 0, "symbolOffset": 8.7,
            "labelFontSize": 17.5, "labelColor": "#1A1A1A", "labelOffset": 18, "rowPadding": 15, "padding": 0,
            "encode": {"symbols": {"update": {"opacity": {"value": 1}, "fillOpacity": {"value": 1}}}}
          }
        }
      }
    },
    {
      "data": {"name": "sig"},
      "mark": {"type": "circle", "size": 40, "opacity": 0.55},
      "encoding": {
        "x": {"field": "maf", "type": "quantitative"},
        "y": {"field": "beta", "type": "quantitative"},
        "color": {"datum": "significant"}
      }
    },
    {
      "data": {"name": "curves"},
      "mark": {"type": "line", "color": "#333333", "strokeWidth": 2, "interpolate": "monotone"},
      "encoding": {
        "x": {"field": "maf", "type": "quantitative"},
        "y": {"field": "beta", "type": "quantitative"},
        "strokeDash": {
          "field": "power", "type": "nominal",
          "scale": {"domain": ["50% power", "80% power"], "range": [[1, 0], [4, 3]]},
          "legend": {
            "title": null, "orient": "none", "legendX": 655, "legendY": 148.5,
            "symbolType": "stroke", "symbolSize": 756, "symbolStrokeWidth": 2, "symbolStrokeColor": "#333333",
            "labelFontSize": 17.5, "labelColor": "#1A1A1A", "labelOffset": 14, "rowPadding": 9.5, "padding": 0
          }
        }
      }
    },
    {
      "data": {"name": "leaders"},
      "mark": {"type": "rule", "color": "#666666", "strokeWidth": 0.8},
      "encoding": {
        "x": {"field": "maf", "type": "quantitative"},
        "y": {"field": "beta", "type": "quantitative"},
        "x2": {"field": "maf2"},
        "y2": {"field": "beta2"}
      }
    },
    {
      "data": {"name": "labels"},
      "mark": {"type": "text", "fontSize": 15, "color": "#1A1A1A", "align": "center", "baseline": "middle"},
      "encoding": {
        "x": {"field": "maf", "type": "quantitative"},
        "y": {"field": "beta", "type": "quantitative"},
        "text": {"field": "label"}
      }
    }
  ]
}
